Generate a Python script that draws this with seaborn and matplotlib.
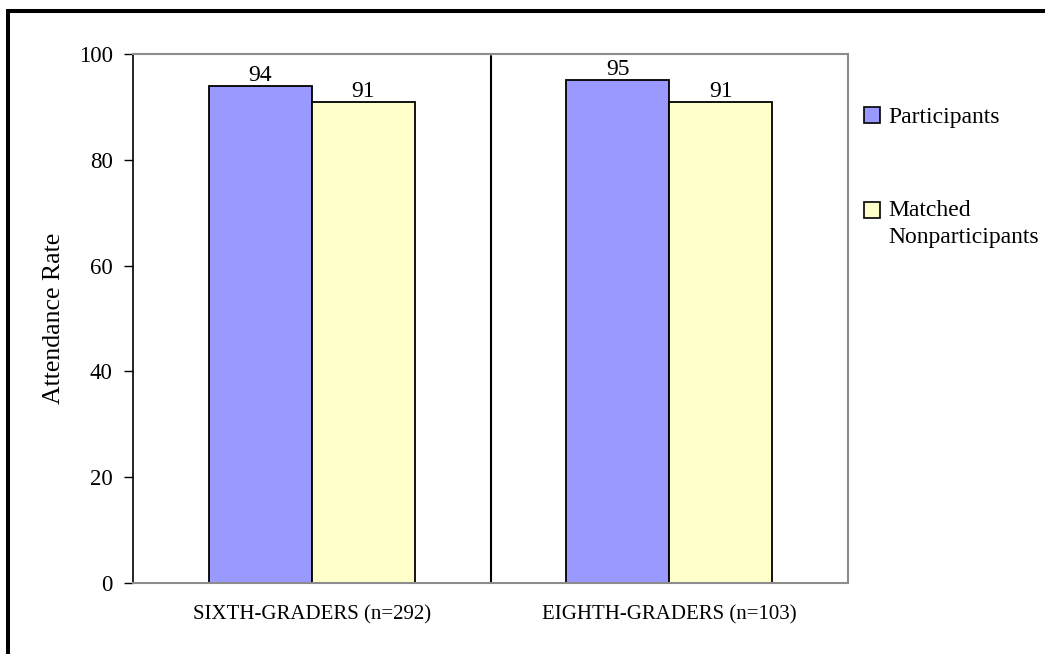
import matplotlib
matplotlib.use("Agg")
import matplotlib.pyplot as plt
from matplotlib.patches import Rectangle
import pandas as pd
import seaborn as sns

# Attendance rates by grade cohort
grades = ["SIXTH-GRADERS (n=292)", "EIGHTH-GRADERS (n=103)"]
groups = ["Participants", "Matched Nonparticipants"]
legend_labels = ["Participants", "Matched\nNonparticipants"]
participants = [94, 95]
nonparticipants = [91, 91]
y_ticks = [0, 20, 40, 60, 80, 100]
colors = ["#9999FF", "#FFFFCC"]

df = pd.DataFrame({
    "grade": grades * 2,
    "group": [groups[0]] * len(grades) + [groups[1]] * len(grades),
    "rate": participants + nonparticipants,
})

sns.set_style("white")
plt.rcParams["font.family"] = ["Liberation Serif", "DejaVu Serif"]
plt.rcParams["text.color"] = "black"
plt.rcParams["axes.labelcolor"] = "black"
plt.rcParams["xtick.color"] = "black"
plt.rcParams["ytick.color"] = "black"

W, H = 1045, 654
fig = plt.figure(figsize=(W / 100, H / 100), dpi=100)
ax = fig.add_axes([133 / W, 1 - 583 / H, 715 / W, 529 / H])

sns.barplot(data=df, x="grade", y="rate", hue="group", order=grades,
            hue_order=groups, palette=colors, width=0.576,
            edgecolor="black", linewidth=1.3, saturation=1, ax=ax)

for cont in ax.containers:
    ax.bar_label(cont, fmt="%.0f", padding=0, fontsize=17)

# separator between the two cohorts
ax.axvline(0.5, color="black", lw=1.5, ymin=0.002, ymax=0.996)

ax.set_xlim(-0.5, 1.5)
ax.set_ylim(0, 100)
ax.set_yticks(y_ticks)
ax.tick_params(axis="y", direction="out", length=6.5, width=1,
               labelsize=16.5, pad=8, left=True)
ax.tick_params(axis="x", length=0, labelsize=15, pad=16)
ax.set_xlabel("")
ax.set_ylabel("Attendance Rate", fontsize=18.5, labelpad=10)

for side in ["top", "right", "bottom"]:
    ax.spines[side].set_color("#8c8c8c")
    ax.spines[side].set_linewidth(1.5)
ax.spines["left"].set_color("black")
ax.spines["left"].set_linewidth(1.2)

h, _ = ax.get_legend_handles_labels()
ax.get_legend().remove()
leg_fs = 17
leg = ax.legend(h, legend_labels, loc="upper left",
                bbox_to_anchor=(864 / W, 1 - 107 / H), bbox_transform=fig.transFigure,
                frameon=False, fontsize=leg_fs, handlelength=0.68, handleheight=0.68,
                handletextpad=0.34, labelspacing=3.03, borderpad=0, borderaxespad=0)
for txt in leg.get_texts():
    txt.set_linespacing(1.4)
for patch in leg.get_patches():
    patch.set_edgecolor("black")
    patch.set_linewidth(1.2)
# keep the second square beside the first text line
sq = leg.get_patches()[1]
sq.set_y(sq.get_y() + 10)

# outer frame
fig.add_artist(Rectangle((8 / W, -1), 2, 2 - 11 / H, transform=fig.transFigure,
                         fill=False, lw=2.9, ec="black", clip_on=False))

fig.savefig("out.png", dpi=100)
